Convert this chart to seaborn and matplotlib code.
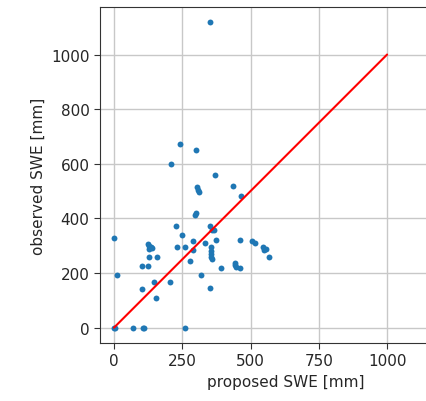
import matplotlib
matplotlib.use("Agg")
import matplotlib.pyplot as plt
import seaborn as sns
import pandas as pd

proposed_swe = [352, 243, 300, 210, 369, 436, 305, 309, 313, 465,
                302, 295, 226, 352, 359, 368, 249, 289, 375, 460,
                0, 505, 516, 335, 125, 130, 135, 140, 128, 232,
                261, 291, 355, 356, 357, 356, 358, 545, 556, 551,
                568, 129, 158, 277, 101, 123, 392, 443, 442, 447,
                460, 10, 318, 148, 204, 101, 352, 153, 0, 3,
                68, 106, 110, 261]
observed_swe = [1118, 673, 650, 600, 560, 520, 515, 505, 495, 481,
                420, 413, 373, 373, 356, 358, 339, 317, 322, 322,
                328, 317, 311, 310, 305, 300, 295, 290, 288, 294,
                294, 283, 294, 282, 270, 258, 250, 294, 289, 283,
                260, 260, 260, 244, 226, 226, 220, 236, 228, 222,
                220, 193, 193, 169, 169, 142, 147, 108, 0, 0,
                0, 0, 0, 0]
line_x = [0, 1000]
line_y = [0, 1000]
x_ticks = [0, 250, 500, 750, 1000]
y_ticks = [0, 200, 400, 600, 800, 1000]

df = pd.DataFrame({"proposed": proposed_swe, "observed": observed_swe})

sns.set_style("ticks")
plt.rcParams["font.family"] = ["DejaVu Sans"]

fig = plt.figure(figsize=(4.27, 4.02), dpi=100)
fig.patch.set_facecolor("white")
fig.patch.set_edgecolor("white")
ax = fig.add_axes([100 / 427, 58 / 402, 372 / 427, 336 / 402])

sns.scatterplot(data=df, x="proposed", y="observed", ax=ax, s=18,
                color="#1f77b4", linewidth=0, zorder=3)
sns.lineplot(x=line_x, y=line_y, ax=ax, color="red", linewidth=1.5, zorder=4)

ax.set_xlim(-51, -51 + 1230 * 372 / 336)
ax.set_ylim(-56, 1174)
ax.set_xticks(x_ticks)
ax.set_yticks(y_ticks)
ax.grid(True, color="#c8c8c8", linewidth=1.0)
ax.set_axisbelow(True)
ax.tick_params(labelsize=11, length=4, width=0.8, color="#333333",
               labelcolor="#262626")
for sp in ax.spines.values():
    sp.set_color("#333333")
    sp.set_linewidth(0.8)
ax.spines["right"].set_visible(False)
ax.set_xlabel("proposed SWE [mm]", fontsize=11, color="#262626")
ax.set_ylabel("observed SWE [mm]", fontsize=11, color="#262626")

fig.savefig("out.png", dpi=100, facecolor="white", edgecolor="white")
